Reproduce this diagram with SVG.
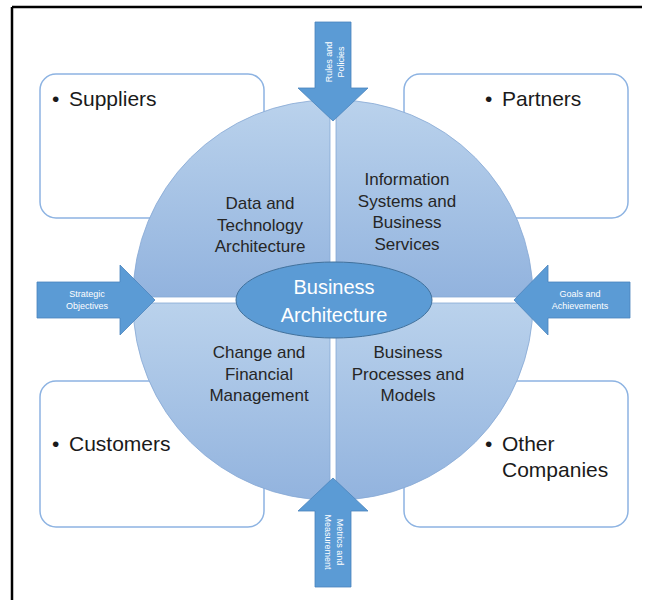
<svg xmlns="http://www.w3.org/2000/svg" width="646" height="600" viewBox="0 0 646 600">
<defs>
<linearGradient id="qg" x1="0" y1="0" x2="0" y2="1">
<stop offset="0" stop-color="#bad2ec"/>
<stop offset="1" stop-color="#92b3de"/>
</linearGradient>
<style>
.box{fill:#ffffff;stroke:#8db3e2;stroke-width:1.5}
.quad{fill:url(#qg);stroke:#86a8d4;stroke-width:0.8}
.arr{fill:#5b9bd5;stroke:#4a84bd;stroke-width:0.8}
.bt{font-family:"Liberation Sans",Arial,sans-serif;font-size:21px;fill:#1a1a1a}
.qt{font-family:"Liberation Sans",Arial,sans-serif;font-size:17px;fill:#262626;text-anchor:middle}
.at{font-family:"Liberation Sans",Arial,sans-serif;font-size:9px;fill:#ffffff;text-anchor:middle}
.ct{font-family:"Liberation Sans",Arial,sans-serif;font-size:20px;fill:#ffffff;text-anchor:middle}
</style>
</defs>
<rect width="646" height="600" fill="#ffffff"/>
<g id="frame" stroke="#000" stroke-width="2.5" fill="none">
<line x1="12" y1="7" x2="642" y2="7"/>
<line x1="12" y1="7" x2="12" y2="600"/>
</g>
<g id="suppliers">
<rect class="box" x="40" y="74" width="224" height="144" rx="16"/>
<text class="bt" x="52" y="106">•</text>
<text class="bt" x="69" y="106">Suppliers</text>
</g>
<g id="partners">
<rect class="box" x="404" y="74" width="224" height="144" rx="16"/>
<text class="bt" x="485" y="106">•</text>
<text class="bt" x="502" y="106">Partners</text>
</g>
<g id="customers">
<rect class="box" x="40" y="381" width="224" height="146" rx="16"/>
<text class="bt" x="52" y="451">•</text>
<text class="bt" x="69" y="451">Customers</text>
</g>
<g id="other-companies">
<rect class="box" x="404" y="381" width="224" height="146" rx="16"/>
<text class="bt" x="485" y="451">•</text>
<text class="bt" x="502" y="451">Other</text>
<text class="bt" x="502" y="477">Companies</text>
</g>
<g id="q-data-tech">
<path class="quad" d="M330,297 L133,297 A197,197 0 0 1 330,100 Z"/>
<text class="qt" x="260" y="209">Data and</text>
<text class="qt" x="260" y="230.5">Technology</text>
<text class="qt" x="260" y="252">Architecture</text>
</g>
<g id="q-info-systems">
<path class="quad" d="M336,297 L336,100 A197,197 0 0 1 533,297 Z"/>
<text class="qt" x="407" y="185">Information</text>
<text class="qt" x="407" y="206.5">Systems and</text>
<text class="qt" x="407" y="228">Business</text>
<text class="qt" x="407" y="249.5">Services</text>
</g>
<g id="q-change-fin">
<path class="quad" d="M330,303 L330,500 A197,197 0 0 1 133,303 Z"/>
<text class="qt" x="259" y="358">Change and</text>
<text class="qt" x="259" y="379.5">Financial</text>
<text class="qt" x="259" y="401">Management</text>
</g>
<g id="q-processes">
<path class="quad" d="M336,303 L533,303 A197,197 0 0 1 336,500 Z"/>
<text class="qt" x="408" y="358">Business</text>
<text class="qt" x="408" y="379.5">Processes and</text>
<text class="qt" x="408" y="401">Models</text>
</g>
<g id="business-architecture">
<ellipse cx="334" cy="300" rx="98" ry="38" fill="#5b9bd5" stroke="#41719c" stroke-width="1"/>
<text class="ct" x="334" y="294">Business</text>
<text class="ct" x="334" y="322">Architecture</text>
</g>
<g id="connectors">
<g id="arrow-rules">
<polygon class="arr" points="315,22 351,22 351,88 368,88 333,121 298,88 315,88"/>
<text class="at" transform="translate(332,62) rotate(-90)">Rules and</text>
<text class="at" transform="translate(344,62) rotate(-90)">Policies</text>
</g>
<g id="arrow-metrics">
<polygon class="arr" points="315,587 351,587 351,511 368,511 333,478 298,511 315,511"/>
<text class="at" transform="translate(337,542) rotate(90)">Metrics and</text>
<text class="at" transform="translate(325,542) rotate(90)">Measurement</text>
</g>
<g id="arrow-strategic">
<polygon class="arr" points="37,282 120,282 120,265 155,300 120,335 120,318 37,318"/>
<text class="at" x="87" y="297">Strategic</text>
<text class="at" x="87" y="309">Objectives</text>
</g>
<g id="arrow-goals">
<polygon class="arr" points="630,282 548,282 548,265 514,300 548,335 548,318 630,318"/>
<text class="at" x="580" y="297">Goals and</text>
<text class="at" x="580" y="309">Achievements</text>
</g>
</g>
</svg>
